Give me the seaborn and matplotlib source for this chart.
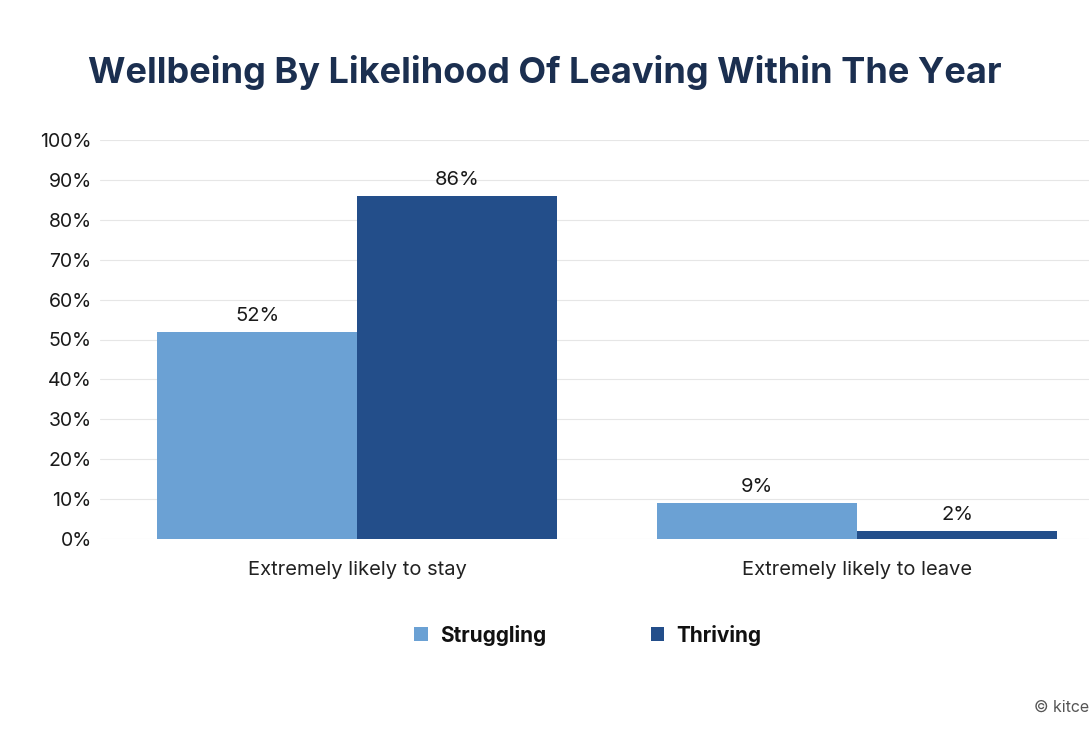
import pandas as pd
import matplotlib.pyplot as plt
import seaborn as sns

# chart data
categories = ['Extremely likely to stay', 'Extremely likely to leave']
groups = ['Struggling', 'Thriving']
struggling = [52, 9]
thriving = [86, 2]
y_ticks = [0, 10, 20, 30, 40, 50, 60, 70, 80, 90, 100]

colors = {'Struggling': '#6ba1d4', 'Thriving': '#234e8a'}


def build_frame():
    rows = []
    for cat, s, t in zip(categories, struggling, thriving):
        rows.append({'category': cat, 'group': 'Struggling', 'value': s})
        rows.append({'category': cat, 'group': 'Thriving', 'value': t})
    return pd.DataFrame(rows)


def main():
    sns.set_style('white')
    plt.rcParams['font.family'] = ['Inter', 'DejaVu Sans']

    df = build_frame()
    fig = plt.figure(figsize=(10.89, 7.30), dpi=100)
    ax = fig.add_axes([100 / 1089, 1 - 539 / 730, 1 - 100 / 1089, (539 - 140) / 730])

    sns.barplot(data=df, x='category', y='value', hue='group', hue_order=groups,
                palette=colors, width=0.8, saturation=1, ax=ax, legend=True,
                edgecolor='none', linewidth=0)

    ax.set_ylim(0, 100)
    ax.set_xlim(-0.514, 1.464)
    ax.set_yticks(y_ticks)
    ax.set_yticklabels([f'{v}%' for v in y_ticks], fontsize=14, color='#1a1a1a')
    ax.tick_params(axis='x', labelsize=14.5, colors='#222222', pad=16, length=0)
    ax.tick_params(axis='y', length=0, pad=6)
    ax.set_xlabel('')
    ax.set_ylabel('')
    ax.grid(axis='y', color='#e6e6e6', linewidth=0.8)
    ax.set_axisbelow(True)
    sns.despine(ax=ax, left=True, bottom=True)

    for container in ax.containers:
        ax.bar_label(container, labels=[f'{v:.0f}%' for v in container.datavalues],
                     padding=5, fontsize=14.5, color='#1a1a1a')

    handles, labels = ax.get_legend_handles_labels()
    leg = ax.legend(handles, labels, loc='center', bbox_to_anchor=(0.540, 1 - 635 / 730),
                    bbox_transform=fig.transFigure, ncol=2, frameon=False,
                    handlelength=0.65, handleheight=0.65, columnspacing=5, handletextpad=0.6,
                    prop={'weight': 'bold', 'size': 15})
    for t in leg.get_texts():
        t.set_color('#111111')

    fig.text(0.5, 1 - 72 / 730, 'Wellbeing By Likelihood Of Leaving Within The Year',
             ha='center', va='center', fontsize=26, fontweight='bold', color='#1b2f50')
    fig.text(1.0, 1 - 707 / 730, '© kitce', ha='right', va='center',
             fontsize=11.5, color='#555555')

    fig.savefig('out.png', dpi=100)


if __name__ == '__main__':
    main()
